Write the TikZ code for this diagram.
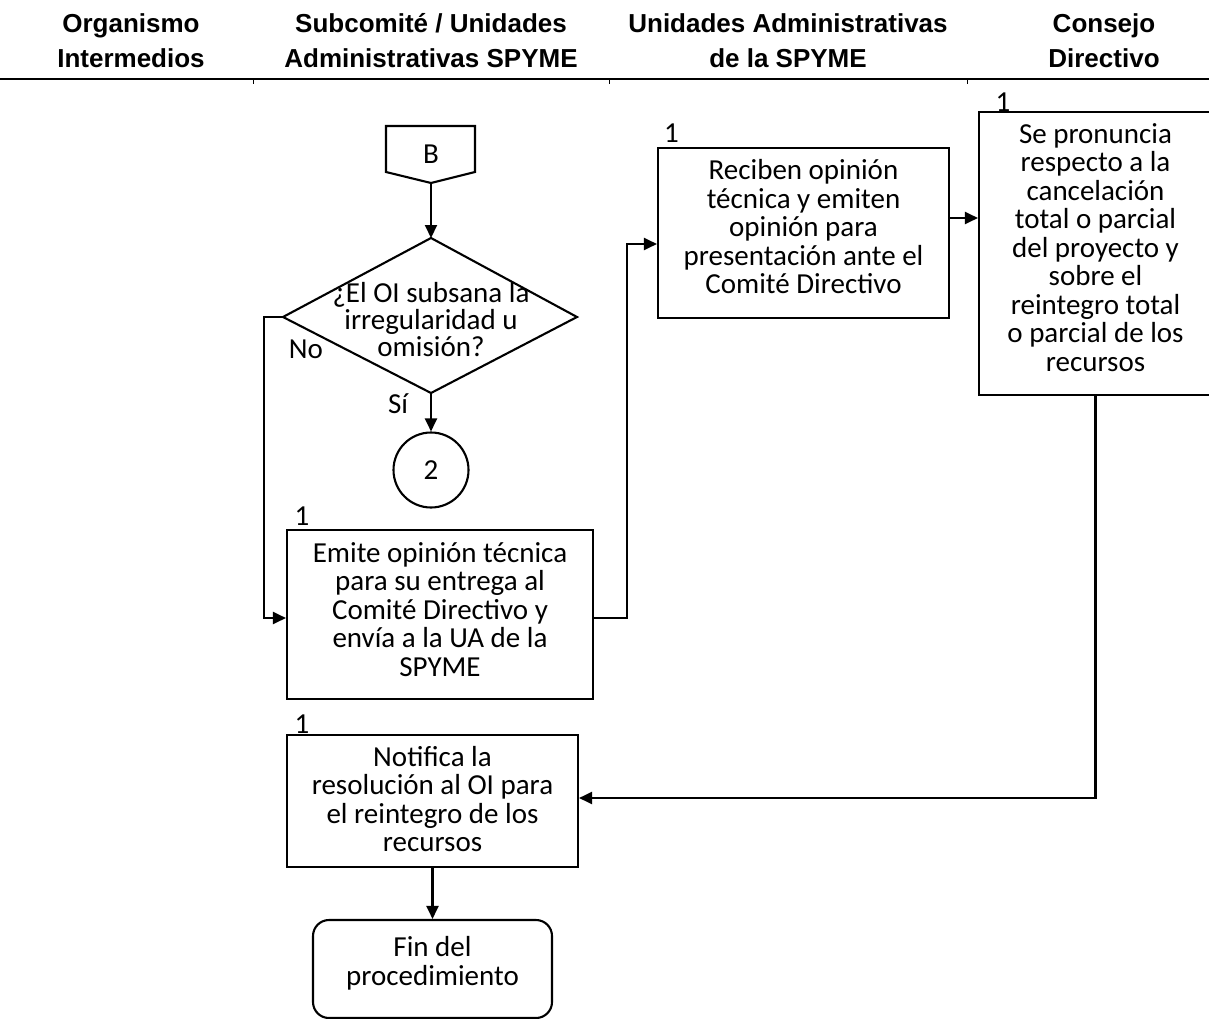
\documentclass[tikz,border=0pt]{standalone}
\usepackage{fontspec}
\setmainfont{Carlito}
\newfontfamily\hdrfont{Liberation Sans}
\usetikzlibrary{arrows.meta}
\begin{document}
\begin{tikzpicture}[x=1pt,y=-1pt,
  ln/.style={line width=2.1pt},
  box/.style={draw,line width=2.1pt,align=center,inner sep=0pt,font=\fontsize{29}{28.5}\selectfont},
  arr/.style={line width=2.1pt,-{Triangle[length=13pt,width=12pt]}},
  lbl/.style={font=\fontsize{29}{28.5}\selectfont,inner sep=0pt,anchor=base},
  hdr/.style={font=\hdrfont\bfseries\fontsize{26}{35}\selectfont,align=center,inner sep=0pt,anchor=north}]
\useasboundingbox (0,0) rectangle (1209,1019);
\clip (0,0) rectangle (1209,1019);
% header
\node[hdr] (h1) at (131,13) {Organismo\\Intermedios};
\node[hdr] (h2) at (431,13) {Subcomité / Unidades\\Administrativas SPYME};
\node[hdr] (h3) at (788,13) {Unidades Administrativas\\de la SPYME};
\node[hdr] (h4) at (1104,13) {Consejo\\Directivo};
\draw[line width=2pt] (0,79) -- (1209,79);
\draw[line width=1pt] (253,79) -- (253,84);
\draw[line width=1pt] (609,79) -- (609,84);
\draw[line width=1pt] (967,79) -- (967,84);
% off-page connector B
\draw[ln] (386,126) -- (475,126) -- (475,172) -- (431,183) -- (386,172) -- cycle;
\node[lbl] (B) at (431,164) {B};
\coordinate (Bb) at (431,183);
% decision
\coordinate (dt) at (431,238);
\coordinate (dr) at (577,317);
\coordinate (db) at (431,393);
\coordinate (dl) at (283,317);
\draw[ln] (dt) -- (dr) -- (db) -- (dl) -- cycle;
\node[align=center,inner sep=0pt,font=\fontsize{29}{27}\selectfont] (dq) at (431,320) {¿El OI subsana la\\irregularidad u\\omisión?};
\node[lbl] (no) at (306,358) {No};
\node[lbl] (si) at (398,413) {Sí};
% connector 2
\node[draw,circle,line width=2.1pt,minimum size=75pt,inner sep=0pt,font=\fontsize{29}{28.5}\selectfont] (c2) at (431,470) {2};
% boxes
\node[box,minimum width=306pt,minimum height=169pt,text depth=10pt] (emite) at (440,614.5) {Emite opinión técnica\\para su entrega al\\Comité Directivo y\\envía a la UA de la\\SPYME};
\node[box,minimum width=291pt,minimum height=170pt,text depth=13pt] (rec) at (803.5,233) {Reciben opinión\\técnica y emiten\\opinión para\\presentación ante el\\Comité Directivo};
\node[box,minimum width=233pt,minimum height=283pt,text depth=12pt] (pron) at (1095.5,253.5) {Se pronuncia\\respecto a la\\cancelación\\total o parcial\\del proyecto y\\sobre el\\reintegro total\\o parcial de los\\recursos};
\node[box,minimum width=291pt,minimum height=132pt,text depth=4pt] (notif) at (432.5,801) {Notifica la\\resolución al OI para\\el reintegro de los\\recursos};
\node[box,rounded corners=16pt,minimum width=239pt,minimum height=98pt,text depth=16pt] (fin) at (432.5,969) {Fin del\\procedimiento};
% "1" labels
\node[lbl] (n1) at (302,525) {1};
\node[lbl] (n2) at (671.5,143) {1};
\node[lbl] (n3) at (1003,112) {1};
\node[lbl] (n4) at (302,733) {1};
% connectors
\draw[arr] (Bb) -- (dt);
\draw[arr] (db) -- (c2.north);
\coordinate (noX) at (264,317);
\coordinate (ei) at ([yshift=-3.5pt]emite.west);
\draw[arr] (dl) -- (noX) |- (ei);
\coordinate (vx) at (627,0);
\coordinate (eo) at ([yshift=-3.5pt]emite.east);
\coordinate (ri) at ([yshift=-11pt]rec.west);
\draw[arr] (eo) -- (eo -| vx) |- (ri);
\coordinate (ro) at ([yshift=15pt]rec.east);
\draw[arr] (ro) -- (ro -| pron.west);
\coordinate (ni) at ([yshift=3pt]notif.east);
\draw[arr] (pron.south) |- (ni);
\draw[arr] (notif.south) -- (fin.north);
\end{tikzpicture}
\end{document}
